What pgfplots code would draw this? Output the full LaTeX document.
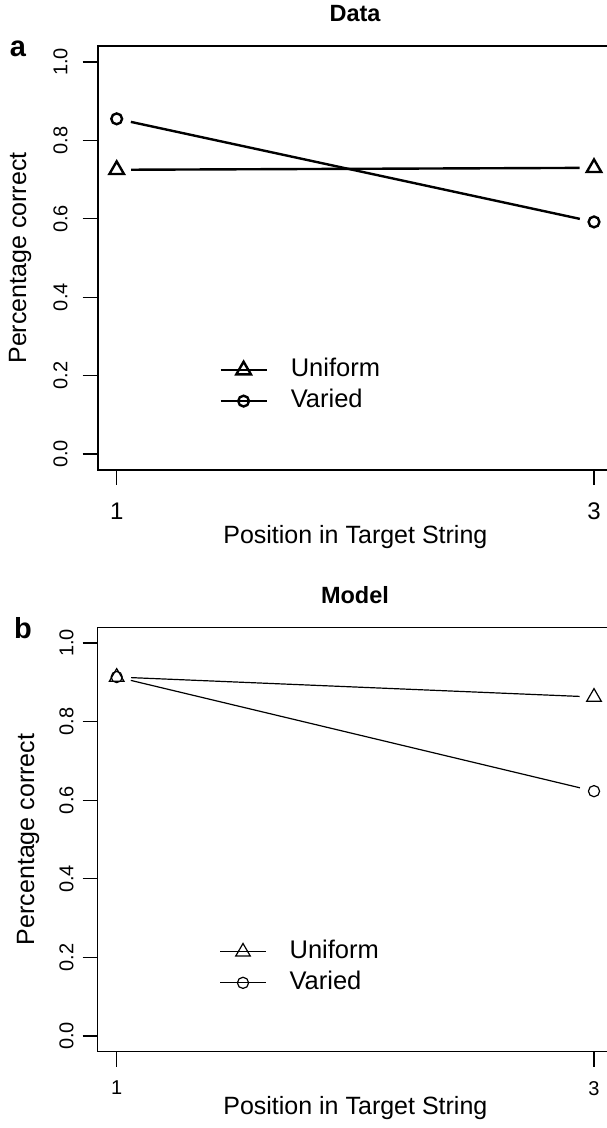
\documentclass[border=0pt]{standalone}
\usepackage{fontspec}
\setmainfont{Liberation Sans}
\usepackage{pgfplots}
\pgfplotsset{compat=1.18}
\begin{document}
\begin{tikzpicture}
\useasboundingbox (0,0) rectangle (303pt,-564pt);
\pgfplotsset{
  panel/.style={
    scale only axis, width=257.75pt,
    xmin=0.92, xmax=3.08, ymin=-0.04, ymax=1.04,
    xtick={1,3}, xticklabels={1,3},
    ytick={0,0.2,0.4,0.6,0.8,1}, yticklabels={0.0,0.2,0.4,0.6,0.8,1.0},
    tick align=outside, major tick length=7.5pt,
    xtick pos=bottom, ytick pos=left,
    major tick style={black, line width=0.6pt},
    y tick label style={rotate=90, anchor=south, inner sep=0pt, font=\fontsize{10}{12}\selectfont},
    x tick label style={anchor=north, inner sep=0pt, font=\fontsize{12}{14}\selectfont},
    yticklabel shift=7.3pt,
    xticklabel shift=9pt,
    label style={font=\fontsize{12.5}{15}\selectfont, inner sep=0pt},
    xlabel={Position in Target String},
    ylabel={Percentage correct},
    xlabel style={at={(axis description cs:0.5,-0.16)}, anchor=center},
    legend cell align=left,
    legend style={draw=none, fill=none, font=\fontsize{12.75}{15}\selectfont,
      inner sep=0pt, nodes={inner sep=0pt, text height=9.5pt, text depth=3pt},
      row sep=3pt,
      at={(axis description cs:0.2355,0.2657)}, anchor=north west},
    legend image code/.code={\draw[mark repeat=2,mark phase=2] plot coordinates {(0pt,0pt)(11.5pt,0pt)(23pt,0pt)};},
  },
}
% ---------- Panel a ----------
\begin{axis}[panel, at={(48.8pt,-234.85pt)}, anchor=south west, height=211.7pt,
  axis line style={line width=1.1pt},
  ylabel style={at={(axis description cs:-0.1505,0.5)}, anchor=center}]
\addlegendimage{black, line width=1.2pt, mark=triangle, mark size=4.2pt, mark options={solid}}
\addlegendentry{\hspace*{11.5pt}Uniform}
\addlegendimage{black, line width=1.2pt, mark=o, mark size=2.7pt}
\addlegendentry{\hspace*{11.5pt}Varied}
\addplot[black, line width=1.2pt, no marks, shorten >=7.25pt, shorten <=7.25pt, forget plot] coordinates {(1,0.725) (3,0.730)};
\addplot[black, line width=1.2pt, no marks, shorten >=7.25pt, shorten <=7.25pt, forget plot] coordinates {(1,0.855) (3,0.592)};
\addplot[black, line width=1.2pt, only marks, mark=triangle, mark size=4.2pt, forget plot] coordinates {(1,0.725) (3,0.730)};
\addplot[black, line width=1.2pt, only marks, mark=o, mark size=2.7pt, forget plot] coordinates {(1,0.855) (3,0.592)};
\end{axis}
\node[anchor=base, font=\fontsize{11.75}{14}\selectfont\bfseries] at (177.5pt,-11pt) {Data};
\node[anchor=base, font=\fontsize{14.5}{17}\selectfont\bfseries] at (9pt,-28.5pt) {a};
% ---------- Panel b ----------
\begin{axis}[panel, at={(48.8pt,-525.85pt)}, anchor=south west, height=212.2pt,
  axis line style={line width=0.6pt},
  ylabel style={at={(axis description cs:-0.135,0.5)}, anchor=center},
  yticklabel shift=4.3pt,
  x tick label style={font=\fontsize{10}{12}\selectfont},
  xticklabel shift=7pt,
  xlabel style={at={(axis description cs:0.5,-0.1327)}, anchor=center}]
\addlegendimage{black, line width=0.6pt, mark=triangle, mark size=4.2pt}
\addlegendentry{\hspace*{11.5pt}Uniform}
\addlegendimage{black, line width=0.6pt, mark=o, mark size=2.8pt}
\addlegendentry{\hspace*{11.5pt}Varied}
\addplot[black, line width=0.6pt, no marks, shorten >=7.25pt, shorten <=7.25pt, forget plot] coordinates {(1,0.9135) (3,0.8626)};
\addplot[black, line width=0.6pt, no marks, shorten >=7.25pt, shorten <=7.25pt, forget plot] coordinates {(1,0.9135) (3,0.623)};
\addplot[black, line width=0.6pt, only marks, mark=triangle, mark size=4.2pt, forget plot] coordinates {(1,0.9135) (3,0.8626)};
\addplot[black, line width=0.6pt, only marks, mark=o, mark size=2.8pt, forget plot] coordinates {(1,0.9135) (3,0.623)};
\end{axis}
\node[anchor=base, font=\fontsize{11.75}{14}\selectfont\bfseries] at (177.5pt,-301.5pt) {Model};
\node[anchor=base, font=\fontsize{14.5}{17}\selectfont\bfseries] at (11.5pt,-319pt) {b};
\end{tikzpicture}
\end{document}
